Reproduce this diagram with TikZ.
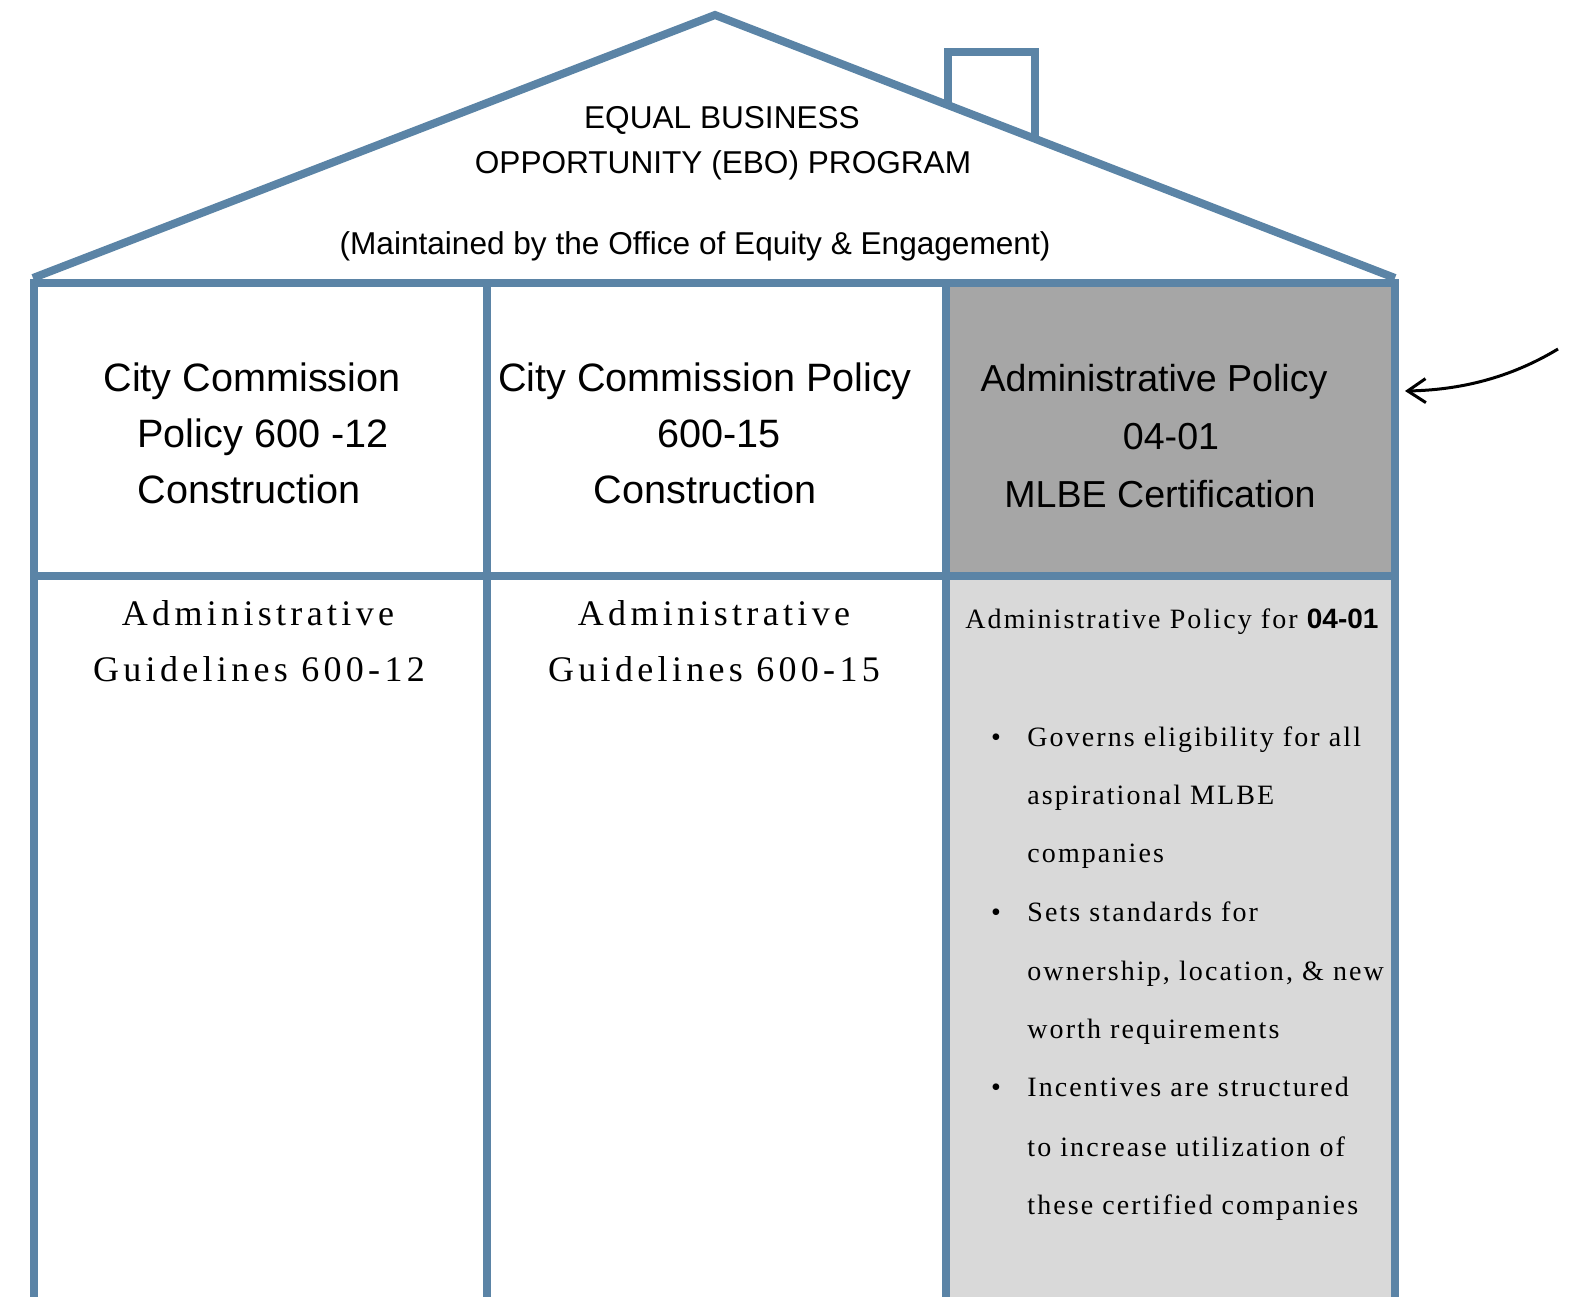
\documentclass[tikz,border=0pt]{standalone}
\usepackage{fontspec}
\setmainfont{Liberation Serif}
\newfontfamily\arialfont{Liberation Sans}
\newfontfamily\guidefont[LetterSpace=12]{Liberation Serif}
\newfontfamily\listfont[LetterSpace=7.5]{Liberation Serif}
\usetikzlibrary{arrows.meta}
\definecolor{wallblue}{RGB}{91,132,166}
\definecolor{headgray}{RGB}{166,166,166}
\definecolor{bodygray}{RGB}{217,217,217}

\begin{document}
\begin{tikzpicture}[x=0.5pt,y=-0.5pt,
    wall/.style={draw=wallblue,line width=4pt},
    rooftext/.style={inner sep=0pt,anchor=base,font=\arialfont\fontsize{15.8}{22}\selectfont},
    head/.style={inner sep=0pt,anchor=base,font=\arialfont\fontsize{19.8}{28}\selectfont},
    headC/.style={head,font=\arialfont\fontsize{18.8}{28}\selectfont},
    guide/.style={inner sep=0pt,anchor=base,font=\guidefont\fontsize{18}{28}\selectfont},
    item/.style={inner sep=0pt,anchor=base west,font=\listfont\fontsize{14}{29}\selectfont},
    dot/.style={inner sep=0pt,anchor=base,font=\listfont\fontsize{14}{29}\selectfont}]

  \useasboundingbox (0,0) rectangle (1576,1297);

  % shaded column
  \fill[headgray] (946,283) rectangle (1395,576);
  \fill[bodygray] (946,576) rectangle (1395,1297);

  % roof and chimney
  \coordinate (eaveL) at (33,278);
  \coordinate (apex)  at (715,15);
  \coordinate (eaveR) at (1395,278);
  \draw[wall] (eaveL) -- (apex) -- (eaveR);
  \draw[wall] (948,105) -- (948,52) -- (1035,52) -- (1035,139);

  % walls
  \draw[wall] (34,1310) -- (34,283) -- (1395,283) -- (1395,1310);
  \draw[wall] (34,576) -- (1395,576);
  \draw[wall] (487,283) -- (487,1310);
  \draw[wall] (946,283) -- (946,1310);

  % roof text
  \node[rooftext] (ebo1) at (722,128) {EQUAL BUSINESS};
  \node[rooftext] (ebo2) at (723,173) {OPPORTUNITY (EBO) PROGRAM};
  \node[rooftext] (oee)  at (695,254) {(Maintained by the Office of Equity \& Engagement)};

  % column headings
  \node[head] (ccA1) at (252,391) {City Commission};
  \node[head] (ccA2) at (263,447) {Policy 600 -12};
  \node[head] (ccA3) at (249,503) {Construction};
  \node[head] (ccB1) at (705,391) {City Commission Policy};
  \node[head] (ccB2) at (719,447) {600-15};
  \node[head] (ccB3) at (705,503) {Construction};
  \node[headC] (apC1) at (1154,391) {Administrative Policy};
  \node[headC] (apC2) at (1171,449) {04-01};
  \node[headC] (apC3) at (1160,507) {MLBE Certification};

  % guidelines
  \node[guide] (agA1) at (258,625) {Administrative};
  \node[guide] (agA2) at (259,681) {Guidelines 600-12};
  \node[guide] (agB1) at (714,625) {Administrative};
  \node[guide] (agB2) at (714,681) {Guidelines 600-15};

  % policy 04-01 details
  \node[item] (apT) at (965,628) {Administrative Policy for {\arialfont\bfseries 04-01}};
  \node[dot] (b1) at (996,746) {\textbullet};
  \node[item] (l1) at (1027,746) {Governs eligibility for all};
  \node[item] (l2) at (1027,804) {aspirational MLBE};
  \node[item] (l3) at (1027,862) {companies};
  \node[dot] (b2) at (996,921) {\textbullet};
  \node[item] (l4) at (1027,921) {Sets standards for};
  \node[item] (l5) at (1027,980) {ownership, location, \& new};
  \node[item] (l6) at (1027,1038) {worth requirements};
  \node[dot] (b3) at (996,1096) {\textbullet};
  \node[item] (l7) at (1027,1096) {Incentives are structured};
  \node[item] (l8) at (1027,1156) {to increase utilization of};
  \node[item] (l9) at (1027,1214) {these certified companies};

  % pointer
  \coordinate (tail) at (1558,349);
  \coordinate (tip)  at (1405,391);
  \draw[line width=1.5pt,-{Straight Barb[length=9pt,width=12pt]}]
    (tail) .. controls (1510,378) and (1460,390) .. (tip);
\end{tikzpicture}
\end{document}
